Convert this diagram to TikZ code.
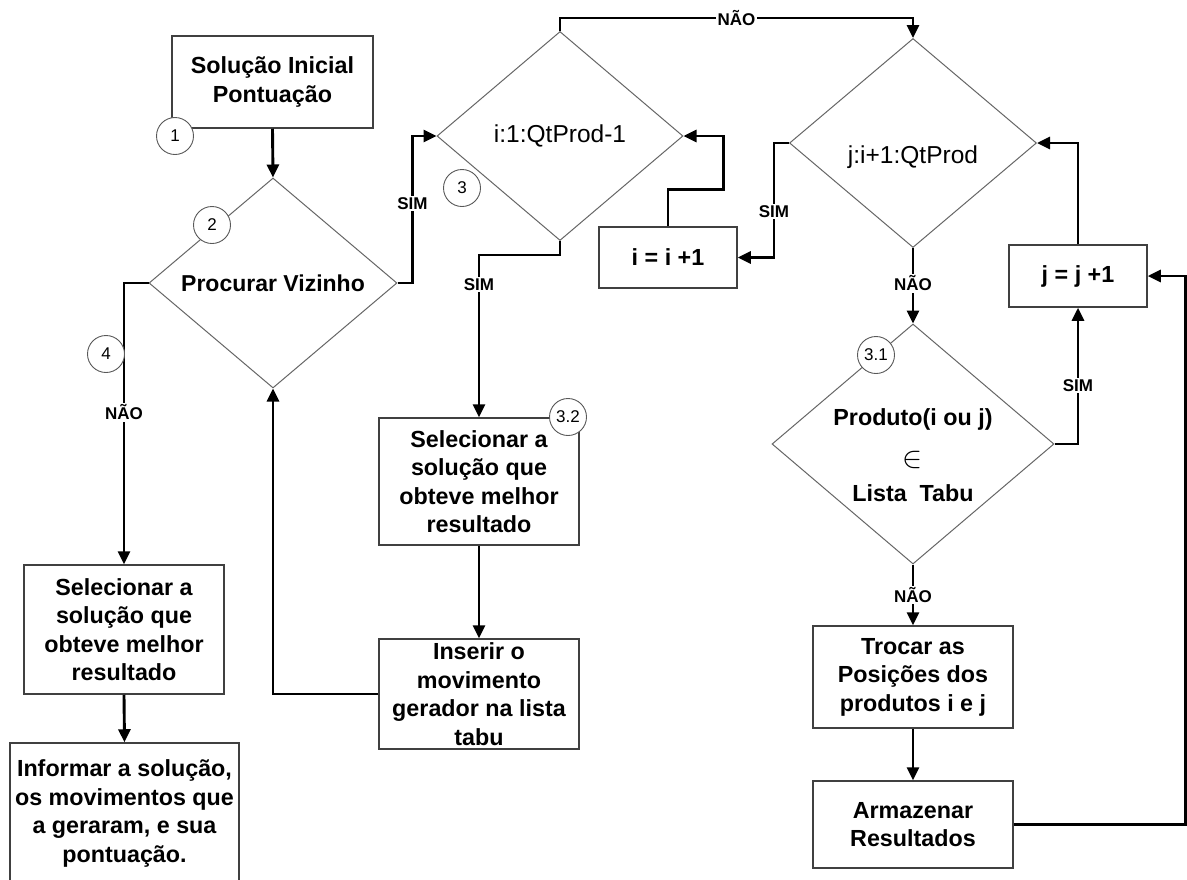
\documentclass[tikz,border=0pt]{standalone}
\usepackage{fontspec}
\usepackage{graphicx}
\setmainfont{Liberation Sans}
\usetikzlibrary{shapes.geometric,arrows.meta,calc}
\begin{document}
\begin{tikzpicture}[x=1pt,y=-1pt,
  box/.style={draw=black!75,line width=1.5pt,rectangle,inner sep=0pt,align=center,
    font=\fontsize{23.3}{28.5}\selectfont\bfseries},
  dec/.style={draw=black!60,line width=1pt,diamond,inner sep=0pt},
  dtxt/.style={inner sep=0pt,align=center},
  num/.style={draw=black!65,line width=0.9pt,circle,fill=white,minimum size=37pt,inner sep=0pt,
    font=\fontsize{17}{19}\selectfont},
  arr/.style={line width=2.9pt,-{Triangle[length=13pt,width=12pt]}},
  lbl/.style={fill=white,inner sep=1.5pt,font=\fontsize{17}{19}\selectfont\bfseries}
]
\useasboundingbox (0,0) rectangle (1187,879);
\clip (0,0) rectangle (1187,879);
\fill[white] (0,0) rectangle (1187,879);

% boxes
\node[box,minimum width=201pt,minimum height=92pt] (b1) at (272.5,82) {Solução Inicial\\Pontuação};
\node[box,minimum width=138pt,minimum height=61pt] (iinc) at (668,257.5) {i = i +1};
\node[box,minimum width=138pt,minimum height=62pt] (jinc) at (1078,276) {j = j +1};
\node[box,minimum width=200pt,minimum height=127pt] (sel2) at (479,481.5) {Selecionar a\\solução que\\obteve melhor\\resultado};
\node[box,minimum width=200pt,minimum height=110pt] (ins) at (479,694) {Inserir o\\movimento\\gerador na lista\\tabu};
\node[box,minimum width=200pt,minimum height=129pt] (selL) at (124,629.5) {Selecionar a\\solução que\\obteve melhor\\resultado};
\node[box,minimum width=229pt,minimum height=141pt] (inf) at (124.5,813.5) {Informar a solução,\\os movimentos que\\a geraram, e sua\\pontuação.};
\node[box,minimum width=200pt,minimum height=102pt] (troc) at (913,677) {Trocar as\\Posições dos\\produtos i e j};
\node[box,minimum width=200pt,minimum height=87pt] (arm) at (913,824.5) {Armazenar\\Resultados};

% diamonds
\node[dec,minimum width=248pt,minimum height=210pt] (d2) at (273,283) {};
\node[dec,minimum width=246pt,minimum height=209pt] (d3) at (560,136) {};
\node[dec,minimum width=247pt,minimum height=209pt] (dj) at (913,143) {};
\node[dec,minimum width=282pt,minimum height=240pt] (d31) at (913,444) {};

\node[dtxt,font=\fontsize{23}{26}\selectfont\bfseries] (t2) at (273,283) {Procurar Vizinho};
\node[dtxt,font=\fontsize{24.5}{26}\selectfont] (t3) at (560,136) {i:1:QtProd-1};
\node[dtxt,font=\fontsize{24.5}{26}\selectfont] (tj) at (913,157) {j:i+1:QtProd};
\node[dtxt,font=\fontsize{23.3}{26}\selectfont\bfseries] (t31a) at (913,419) {Produto(i ou j)};
\node[dtxt,font=\fontsize{20}{22}\selectfont] (t31b) at (913,460) {\scalebox{1.45}{$\in$}};
\node[dtxt,font=\fontsize{23.3}{26}\selectfont\bfseries] (t31c) at (913,493) {Lista\ \ Tabu};

% connectors
\draw[arr] (b1.south) -- (d2.north);
\draw[arr] (d2.east) -- ++(15,0) |- node[lbl,pos=0.27]{SIM} (d3.west);
\draw[arr] (d3.north) -- ++(0,-13) -| node[lbl,pos=0.25]{NÃO} (dj.north);
\draw[arr] (iinc.north) -- ++(0,-37) -| ([xshift=40pt]d3.east) -- (d3.east);
\draw[arr] (dj.west) -- ++(-15,0) |- node[lbl,pos=0.3]{SIM} (iinc.east);
\draw[arr] (dj.south) -- node[lbl,pos=0.47]{NÃO} (d31.north);
\draw[arr] (jinc.north) |- (dj.east);
\draw[arr] (d31.east) -| node[lbl,pos=0.715]{SIM} (jinc.south);
\draw[arr] (d31.south) -- node[lbl,pos=0.5]{NÃO} (troc.north);
\draw[arr] (troc.south) -- (arm.north);
\draw[arr] (arm.east) -- ++(172,0) |- (jinc.east);
\draw[arr] (d3.south) -- ++(0,14) -| node[lbl,pos=0.59]{SIM} (sel2.north);
\draw[arr] (sel2.south) -- (ins.north);
\draw[arr] (ins.west) -| (d2.south);
\draw[arr] (d2.west) -| node[lbl,pos=0.73]{NÃO} (selL.north);
\draw[arr] (selL.south) -- (inf.north);

% numbered circles
\node[num] (c1) at (175,136) {1};
\node[num] (c2) at (212,225) {2};
\node[num] (c3) at (462,188) {3};
\node[num] (c4) at (106,354) {4};
\node[num] (c32) at (568,417) {3.2};
\node[num] (c31) at (876,355) {3.1};
\end{tikzpicture}
\end{document}
